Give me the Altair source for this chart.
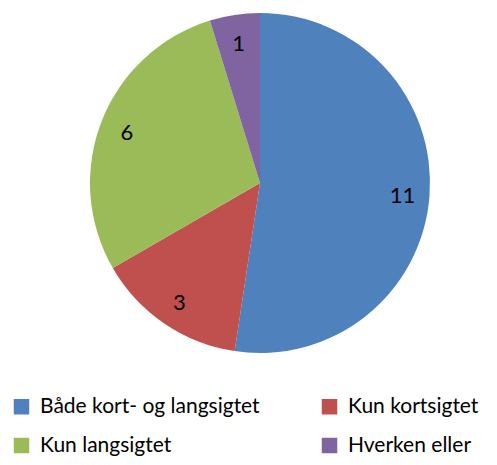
import altair as alt
import pandas as pd

categories = ["Både kort- og langsigtet", "Kun kortsigtet", "Kun langsigtet", "Hverken eller"]
values = [11, 3, 6, 1]
colors = ["#4F81BD", "#C0504D", "#9BBB59", "#8064A2"]

df = pd.DataFrame({"cat": categories, "val": values, "ord": list(range(len(values)))})

cx, cy = 252, 175
color = alt.Color(
    "cat:N",
    scale=alt.Scale(domain=categories, range=colors),
    sort=categories,
    legend=alt.Legend(
        title=None,
        orient="none",
        legendX=3,
        legendY=388,
        columns=2,
        direction="horizontal",
        symbolType="square",
        symbolSize=240,
        symbolStrokeWidth=0,
        labelFont="Lato",
        labelFontSize=21,
        labelColor="#000000",
        labelLimit=400,
        columnPadding=59,
        rowPadding=17,
        symbolOffset=0,
        labelOffset=8,
    ),
)

base = alt.Chart(df).encode(
    theta=alt.Theta("val:Q", stack=True),
    order=alt.Order("ord:Q"),
)

pie = base.mark_arc(radius=170, strokeWidth=0).encode(
    color=color, x=alt.value(cx), y=alt.value(cy)
)

labels = base.mark_text(radius=143, font="Lato", fontSize=22, color="#000000").encode(
    text="val:Q", x=alt.value(cx), y=alt.value(cy + 2)
)

chart = (
    alt.layer(pie, labels)
    .properties(width=481, height=449, autosize=alt.AutoSizeParams(type="none"), padding=0)
    .configure_view(stroke=None)
)

chart.save("out.html", embed_options={"renderer": "svg", "actions": False})
